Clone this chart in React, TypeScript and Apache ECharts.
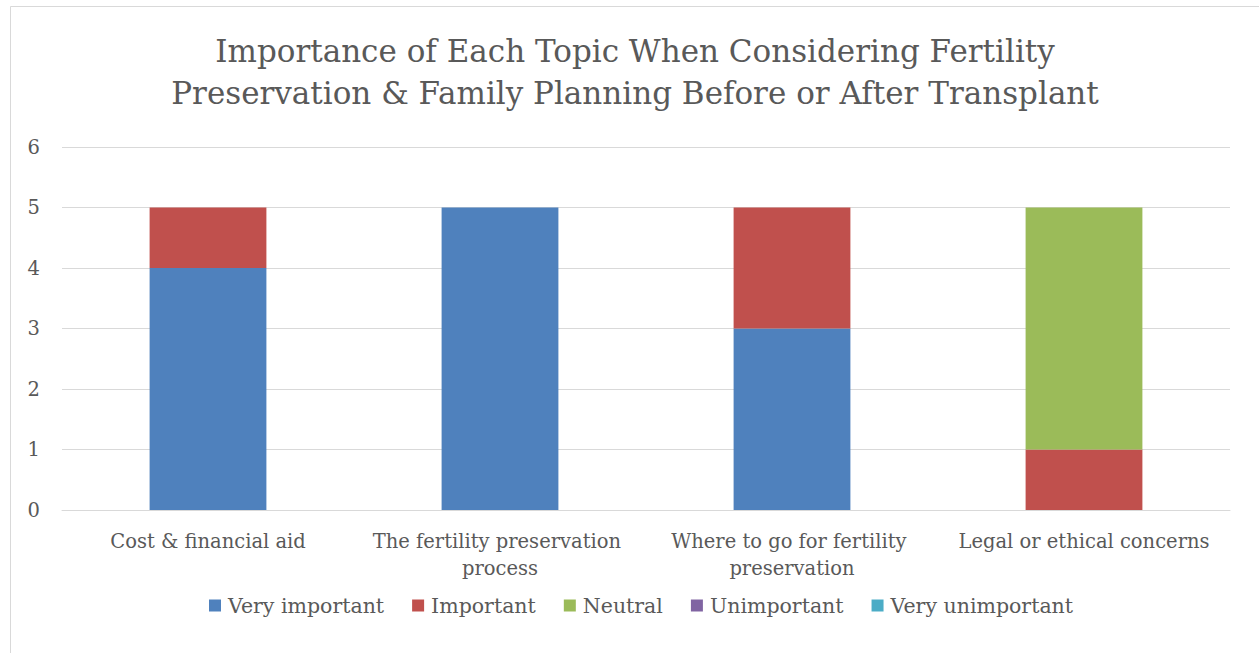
import React, { useEffect, useRef } from "react";
import * as echarts from "echarts";

const categories = [
  "Cost & financial aid",
  "The fertility preservation process",
  "Where to go for fertility preservation",
  "Legal or ethical concerns",
];
const seriesNames = ["Very important", "Important", "Neutral", "Unimportant", "Very unimportant"];
const veryImportant = [4, 5, 3, 0];
const important = [1, 0, 2, 1];
const neutral = [0, 0, 0, 4];
const unimportant = [0, 0, 0, 0];
const veryUnimportant = [0, 0, 0, 0];
const colors = ["#4F81BD", "#C0504D", "#9BBB59", "#8064A2", "#4BACC6"];
const yTicks = [0, 1, 2, 3, 4, 5, 6];

const FONT = "DejaVu Serif";

export default function App() {
  const ref = useRef<HTMLDivElement>(null);
  useEffect(() => {
    if (!ref.current) return;
    const chart = echarts.init(ref.current, undefined, { renderer: "svg" });
    const values = [veryImportant, important, neutral, unimportant, veryUnimportant];
    chart.setOption({
      animation: false,
      textStyle: { fontFamily: FONT },
      title: {
        text: "Importance of Each Topic When Considering Fertility\nPreservation & Family Planning Before or After Transplant",
        left: 630,
        textAlign: "center",
        top: 25,
        textStyle: { fontFamily: FONT, fontSize: 31, fontWeight: "normal", color: "#595959", lineHeight: 42 },
      },
      graphic: [
        {
          type: "rect",
          shape: { x: 10.5, y: 6.5, width: 1260, height: 700 },
          style: { fill: "none", stroke: "#d9d9d9", lineWidth: 1 },
          silent: true,
        },
      ],
      legend: {
        bottom: 32,
        left: 204,
        itemWidth: 12,
        itemHeight: 12,
        itemGap: 28,
        icon: "rect",
        textStyle: { fontFamily: FONT, fontSize: 20.5, color: "#595959", padding: [0, 0, 0, 2] },
        data: seriesNames,
      },
      grid: { left: 62, right: 29, top: 147, bottom: 143, containLabel: false },
      xAxis: {
        type: "category",
        data: categories,
        axisTick: { show: false },
        axisLine: { lineStyle: { color: "#d9d9d9", width: 1 } },
        axisLabel: {
          fontFamily: FONT,
          fontSize: 19.5,
          color: "#595959",
          margin: 18,
          lineHeight: 27,
          width: 280,
          overflow: "break",
          interval: 0,
        },
      },
      yAxis: {
        type: "value",
        min: yTicks[0],
        max: yTicks[yTicks.length - 1],
        interval: 1,
        axisLabel: { fontFamily: FONT, fontSize: 19.5, color: "#595959", margin: 22 },
        splitLine: { lineStyle: { color: "#d9d9d9", width: 1 } },
        axisLine: { show: false },
        axisTick: { show: false },
      },
      series: seriesNames.map((name, i) => ({
        name,
        type: "bar",
        stack: "total",
        data: values[i],
        barCategoryGap: "60%",
        itemStyle: { color: colors[i] },
      })),
    });
    return () => chart.dispose();
  }, []);
  return (
    <div
      ref={ref}
      style={{ position: "fixed", left: 0, top: 0, width: 1259, height: 653, background: "#fff" }}
    />
  );
}
